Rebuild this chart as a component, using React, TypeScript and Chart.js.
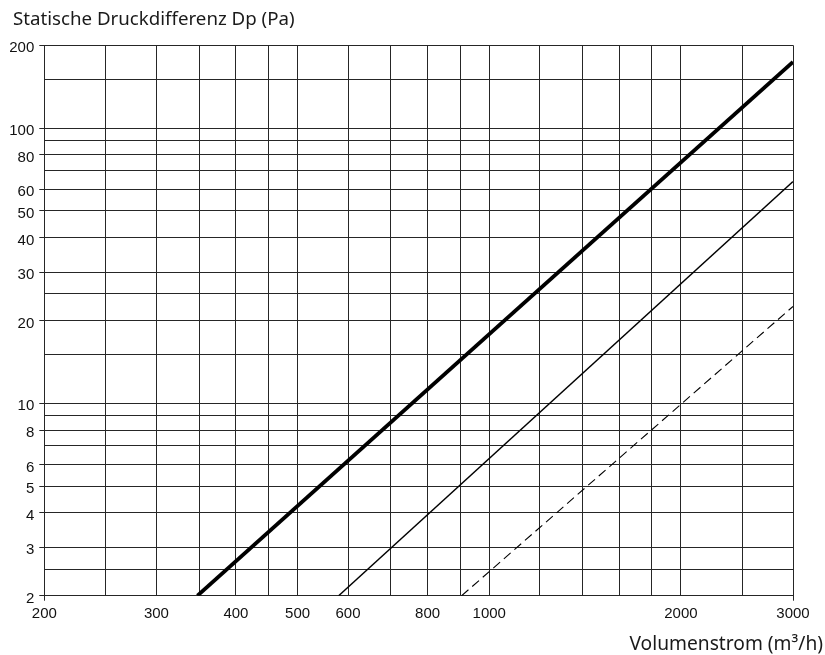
import { useEffect, useRef } from 'react';
import { Chart, registerables } from 'chart.js';

Chart.register(...registerables);

// Axis grid values (log-log chart)
const X_GRID = [200, 250, 300, 350, 400, 450, 500, 600, 700, 800, 900, 1000, 1200, 1400, 1600, 1800, 2000, 2500, 3000];
const X_LABELS = [200, 300, 400, 500, 600, 800, 1000, 2000, 3000];
const X_TICK_MARKS = [200, 3000];
const Y_GRID = [2, 2.5, 3, 4, 5, 6, 7, 8, 9, 10, 15, 20, 25, 30, 40, 50, 60, 70, 80, 90, 100, 150, 200];
const Y_LABELS = [2, 3, 4, 5, 6, 8, 10, 20, 30, 40, 50, 60, 80, 100, 200];

const Y_TITLE = 'Statische Druckdifferenz Dp (Pa)';
const X_TITLE = 'Volumenstrom (m³/h)';

// Series (Volumenstrom m³/h -> Druckdifferenz Pa)
const HEAVY_X = [348, 3000];
const HEAVY_Y = [2, 174];
const THIN_X = [580, 3000];
const THIN_Y = [2, 64];
const DASH_X = [905, 3000];
const DASH_Y = [2, 22.5];

const GRID = '#262626';
const TEXT = '#1a1a1a';
const TICK_TEXT = '#111';

function pts(xs: number[], ys: number[]) {
  return xs.map((x, i) => ({ x, y: ys[i] }));
}

const titlesPlugin = {
  id: 'cornerTitles',
  afterDraw(chart: any) {
    const ctx = chart.ctx;
    ctx.save();
    ctx.fillStyle = TEXT;
    ctx.font = '18.7px "Noto Sans"';
    ctx.textBaseline = 'alphabetic';
    ctx.textAlign = 'left';
    ctx.fillText(Y_TITLE, 13, 25);
    ctx.textAlign = 'right';
    ctx.font = '19.2px "Noto Sans"';
    ctx.fillText(X_TITLE, 823, 650);
    ctx.restore();
  },
};

export default function App() {
  const ref = useRef<HTMLCanvasElement | null>(null);

  useEffect(() => {
    if (!ref.current) return;
    const chart = new Chart(ref.current, {
      type: 'line',
      data: {
        datasets: [
          { data: pts(HEAVY_X, HEAVY_Y), borderColor: '#000', borderWidth: 3.8, pointRadius: 0, fill: false, tension: 0 },
          { data: pts(THIN_X, THIN_Y), borderColor: '#000', borderWidth: 1.5, pointRadius: 0, fill: false, tension: 0 },
          { data: pts(DASH_X, DASH_Y), borderColor: '#000', borderWidth: 1.1, borderDash: [9, 5], pointRadius: 0, fill: false, tension: 0 },
        ],
      },
      plugins: [titlesPlugin],
      options: {
        animation: false,
        responsive: false,
        maintainAspectRatio: false,
        layout: { padding: { left: 5, right: 32, top: 45.3, bottom: 19.3 } },
        plugins: {
          legend: { display: false },
          tooltip: { enabled: false },
          title: { display: false },
        },
        scales: {
          x: {
            type: 'logarithmic',
            min: 200,
            max: 3000,
            afterBuildTicks: (s: any) => {
              s.ticks = X_GRID.map((v) => ({ value: v }));
            },
            afterFit: (s: any) => {
              s.height = 40;
            },
            ticks: {
              autoSkip: false,
              maxRotation: 0,
              padding: 4,
              color: TICK_TEXT,
              font: { family: 'Liberation Sans', size: 15 },
              callback: (v: any) => (X_LABELS.includes(Number(v)) ? String(v) : ''),
            },
            grid: {
              color: GRID,
              lineWidth: 1,
              tickLength: 5,
              tickColor: (ctx: any) => (ctx.tick && X_TICK_MARKS.includes(ctx.tick.value) ? GRID : 'rgba(0,0,0,0)'),
            },
            border: { display: true, color: GRID, width: 1 },
          },
          y: {
            type: 'logarithmic',
            min: 2,
            max: 200,
            afterBuildTicks: (s: any) => {
              s.ticks = Y_GRID.map((v) => ({ value: v }));
            },
            afterFit: (s: any) => {
              s.width = 39.3;
            },
            ticks: {
              autoSkip: false,
              padding: 5,
              labelOffset: 3,
              color: TICK_TEXT,
              font: { family: 'Liberation Sans', size: 15 },
              callback: (v: any) => (Y_LABELS.includes(Number(v)) ? String(v) : ''),
            },
            grid: {
              color: GRID,
              lineWidth: 1,
              tickLength: 5,
              tickColor: (ctx: any) => (ctx.tick && Y_LABELS.includes(ctx.tick.value) ? GRID : 'rgba(0,0,0,0)'),
            },
            border: { display: true, color: GRID, width: 1 },
          },
        },
      },
    } as any);
    return () => chart.destroy();
  }, []);

  return (
    <div style={{ position: 'absolute', left: 0, top: 0, width: 825, height: 655, background: '#fff' }}>
      <canvas ref={ref} width={825} height={655} style={{ width: 825, height: 655, display: 'block' }} />
    </div>
  );
}
